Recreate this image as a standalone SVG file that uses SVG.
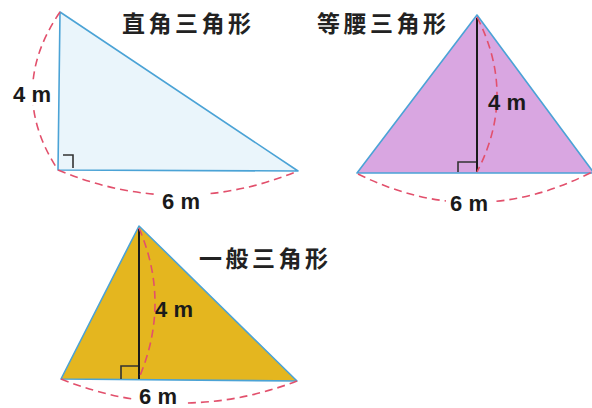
<svg xmlns="http://www.w3.org/2000/svg" width="592" height="408" viewBox="0 0 592 408">
<style>
.tri{stroke:#4ba3d6;stroke-width:1.6;stroke-linejoin:round}
.dash{fill:none;stroke:#e2506c;stroke-width:1.6;stroke-dasharray:8 5}
.alt{fill:none;stroke:#1a1a1a;stroke-width:2}
.ra{fill:none;stroke:#333;stroke-width:1.6}
.title{font-family:"Noto Sans CJK SC","Noto Sans CJK TC",sans-serif;font-size:23px;font-weight:bold;fill:#222;letter-spacing:3.5px}
.lbl{font-family:"Liberation Sans",Arial,sans-serif;font-size:22px;font-weight:bold;fill:#1a1a1a;text-anchor:middle}
</style>
<rect width="592" height="408" fill="#ffffff"/>
<g id="right-triangle">
<polygon class="tri" points="60,12 58,170 298,171" fill="#eaf5fb"/>
<path class="ra" d="M63,155 H73 V168"/>
<text class="title" x="122" y="32">直角三角形</text>
</g>
<g id="isosceles-triangle">
<polygon class="tri" points="477,15 357,173 594,173" fill="#d9a6e1"/>
<line class="alt" x1="477" y1="18" x2="477" y2="172"/>
<path class="ra" d="M458,172 V162 H476"/>
<text class="title" x="317" y="32">等腰三角形</text>
</g>
<g id="general-triangle">
<polygon class="tri" points="139,226 61,379 297,381" fill="#e4b61f"/>
<line class="alt" x1="139" y1="229" x2="139" y2="379"/>
<path class="ra" d="M121,379 V366 H138"/>
<text class="title" x="199" y="267">一般三角形</text>
</g>
<g id="connectors">
<path class="dash" d="M60,12 Q6,91 58,170"/>
<path class="dash" d="M58,170 Q178,220 298,171"/>
<path class="dash" d="M477,17 Q517,95 477,172"/>
<path class="dash" d="M358,174 Q475,232 592,172"/>
<path class="dash" d="M139,228 Q171,303 139,378"/>
<path class="dash" d="M61,379 Q179,426 297,381"/>
</g>
<g id="labels">
<rect x="9" y="83" width="46" height="22" fill="#ffffff"/>
<text class="lbl" x="32" y="102">4 m</text>
<rect x="156" y="189" width="50" height="22" fill="#ffffff"/>
<text class="lbl" x="181" y="209">6 m</text>
<text class="lbl" x="507" y="110">4 m</text>
<rect x="446" y="190" width="46" height="22" fill="#ffffff"/>
<text class="lbl" x="469" y="211">6 m</text>
<text class="lbl" x="174" y="317">4 m</text>
<rect x="132" y="386" width="54" height="22" fill="#ffffff"/>
<text class="lbl" x="158" y="404">6 m</text>
</g>
</svg>
